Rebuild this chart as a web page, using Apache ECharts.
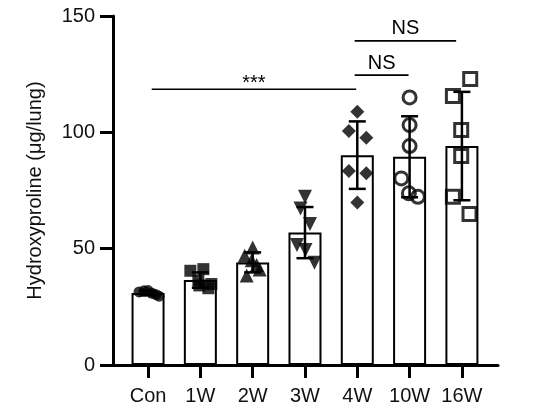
<!DOCTYPE html>
<html>
<head>
<meta charset="utf-8">
<script src="https://cdn.jsdelivr.net/npm/echarts@6/dist/echarts.min.js"></script>
<style>
  html, body { margin: 0; padding: 0; background: #fff; }
  #chart { width: 536px; height: 418px; }
</style>
</head>
<body>
<div id="chart"></div>
<script>
// groups on the x axis
var categories = ["Con", "1W", "2W", "3W", "4W", "10W", "16W"];

// bar heights (mean) and SD
var means = [30.9, 36.5, 44.1, 56.9, 90.2, 89.5, 94.1];
var sds = [1.0, 3.3, 4.3, 11.0, 14.5, 17.4, 23.3];

// individual animals per group
var conValues = [31.4, 31.9, 32.0, 30.8, 30.2, 29.6];
var w1Values = [40.5, 41.2, 36.3, 33.0, 34.2, 34.8];
var w2Values = [50.5, 47.0, 45.0, 43.0, 41.0, 38.5];
var w3Values = [72.3, 67.3, 60.6, 51.6, 49.4, 44.0];
var w4Values = [108.9, 100.6, 97.7, 83.4, 82.4, 69.8];
var w10Values = [115.0, 103.1, 94.1, 80.2, 73.8, 72.3];
var w16Values = [122.9, 115.6, 101.0, 89.8, 72.3, 64.9];

var yTicks = [0, 50, 100, 150];

// significance brackets: from group, to group, height, label
var bracketFrom = [0.07, 3.95, 3.95];
var bracketTo = [3.98, 4.98, 5.89];
var bracketY = [118.5, 124.6, 139.3];
var bracketLabels = ["***", "NS", "NS"];

var groupValues = [conValues, w1Values, w2Values, w3Values, w4Values, w10Values, w16Values];

// ---- drawing ----
var FONT = "'Liberation Sans', Arial, sans-serif";
var PX_PER_CAT = 52.28; // used only to turn pixel jitter into axis units
var jitterPx = [
  [-9, -4, 0, 4, 8, 11],
  [-10, 3, -2, 8, -1, 11],
  [0, -8, -1, 4, 7, -6],
  [0, -4.5, 5, -8, 0.5, 9.5],
  [0, -8.4, 9, -8.4, 9, 0],
  [0, 0, 0, -8.3, -0.7, 8.3],
  [8.3, -9, -0.7, -0.7, -9, 7.6]
];
var symbols = [
  { symbol: "circle", size: 11, filled: true },
  { symbol: "rect", size: 12, filled: true },
  { symbol: "triangle", size: 14, filled: true },
  { symbol: "triangle", size: 14, filled: true, rotate: 180 },
  { symbol: "diamond", size: 14, filled: true },
  { symbol: "circle", size: 13, filled: false },
  { symbol: "rect", size: 13, filled: false }
];

var catIdx = categories.map(function (c, i) { return i; });

var dom = document.getElementById("chart");
var myChart = echarts.init(dom, null, { renderer: "canvas" });

var series = [];

series.push({
  type: "bar",
  data: means.map(function (m, i) { return [i, m]; }),
  barWidth: 33,
  itemStyle: { color: "#fff", borderColor: "#000", borderWidth: 2 },
  z: 1,
  silent: true
});

groupValues.forEach(function (vals, g) {
  var s = symbols[g];
  series.push({
    type: "scatter",
    data: vals.map(function (v, k) { return [g + jitterPx[g][k] / PX_PER_CAT, v]; }),
    symbol: s.symbol,
    symbolSize: s.size,
    symbolRotate: s.rotate || 0,
    itemStyle: s.filled
      ? { color: "#000" }
      : { color: "rgba(0,0,0,0)", borderColor: "#000", borderWidth: 3 },
    z: 3,
    silent: true
  });
});

series.push({
  type: "custom",
  data: means.map(function (m, i) { return [i, m, sds[i]]; }),
  clip: false,
  z: 5,
  silent: true,
  renderItem: function (params, api) {
    var x = api.value(0), m = api.value(1), s = api.value(2);
    var top = api.coord([x, m + s]);
    var bot = api.coord([x, m - s]);
    var cap = 8.5;
    var st = { stroke: "#000", lineWidth: 2.5 };
    return {
      type: "group",
      children: [
        { type: "line", shape: { x1: top[0], y1: top[1], x2: bot[0], y2: bot[1] }, style: st },
        { type: "line", shape: { x1: top[0] - cap, y1: top[1], x2: top[0] + cap, y2: top[1] }, style: st },
        { type: "line", shape: { x1: bot[0] - cap, y1: bot[1], x2: bot[0] + cap, y2: bot[1] }, style: st }
      ]
    };
  }
});

series.push({
  type: "custom",
  data: bracketLabels.map(function (l, i) { return [bracketFrom[i], bracketTo[i], bracketY[i], i]; }),
  clip: false,
  z: 5,
  silent: true,
  renderItem: function (params, api) {
    var a = api.coord([api.value(0), api.value(2)]);
    var b = api.coord([api.value(1), api.value(2)]);
    var label = bracketLabels[api.value(3)];
    var off = label.charAt(0) === "*" ? 6 : 12;
    return {
      type: "group",
      children: [
        { type: "line", shape: { x1: a[0], y1: a[1], x2: b[0], y2: b[1] }, style: { stroke: "#000", lineWidth: 1.6 } },
        {
          type: "text",
          x: (a[0] + b[0]) / 2,
          y: a[1] - off,
          style: { text: label, fill: "#000", font: "20px " + FONT, textAlign: "center", textVerticalAlign: "middle" }
        }
      ]
    };
  }
});

var option = {
  animation: false,
  grid: { left: 113, right: 38, top: 16, bottom: 53 },
  xAxis: {
    type: "value",
    min: -0.67,
    max: 6.69,
    axisLine: { onZero: false, lineStyle: { color: "#000", width: 3 } },
    axisTick: {
      show: true,
      customValues: catIdx,
      length: 13,
      lineStyle: { color: "#000", width: 3 }
    },
    axisLabel: {
      customValues: catIdx,
      margin: 21,
      color: "#111",
      fontSize: 20,
      fontFamily: FONT,
      formatter: function (v) { return categories[Math.round(v)]; }
    },
    splitLine: { show: false }
  },
  yAxis: {
    type: "value",
    min: yTicks[0],
    max: yTicks[yTicks.length - 1],
    interval: yTicks[1] - yTicks[0],
    name: "Hydroxyproline (μg/lung)",
    nameLocation: "middle",
    nameGap: 68,
    nameTextStyle: { color: "#111", fontSize: 20, fontFamily: FONT },
    axisLine: { show: true, onZero: false, lineStyle: { color: "#000", width: 3 } },
    axisTick: { show: true, length: 13, lineStyle: { color: "#000", width: 3 } },
    axisLabel: { margin: 18, color: "#111", fontSize: 20, fontFamily: FONT },
    splitLine: { show: false }
  },
  series: series
};

myChart.setOption(option);
window.addEventListener("resize", myChart.resize);
</script>
</body>
</html>
